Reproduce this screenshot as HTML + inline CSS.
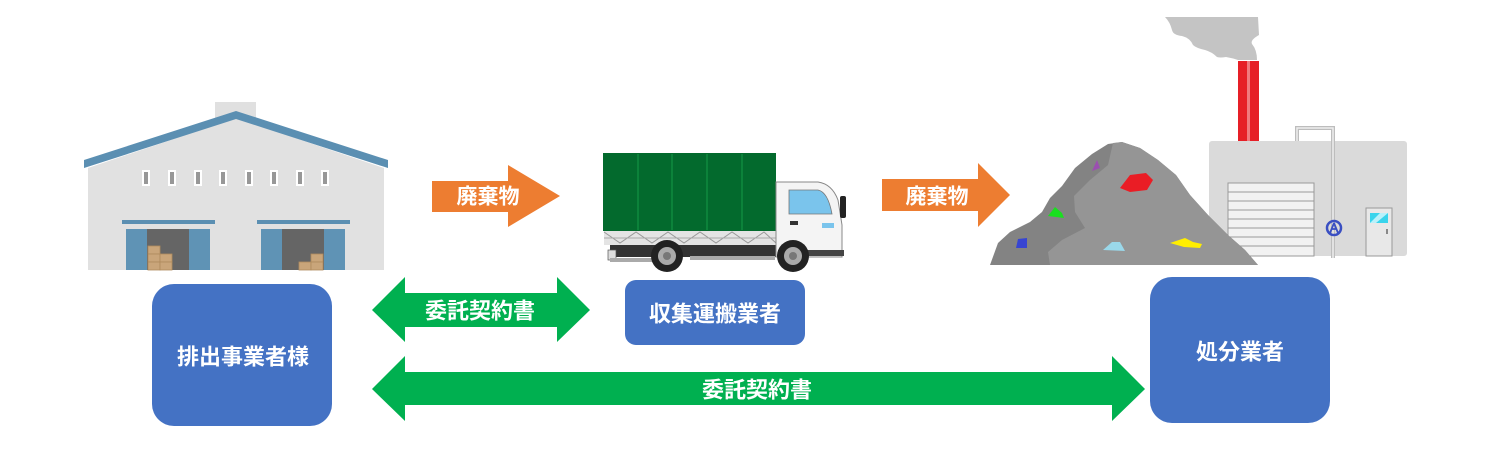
<!DOCTYPE html>
<html><head><meta charset="utf-8">
<style>
html,body{margin:0;padding:0;background:#fff;}
svg{display:block;}
text{font-family:"Liberation Sans","Noto Sans CJK JP",sans-serif;font-weight:bold;fill:#fff;}
</style></head>
<body>
<svg width="1497" height="458" viewBox="0 0 1497 458" xmlns="http://www.w3.org/2000/svg">
<!-- Warehouse -->
<rect x="215" y="102" width="41" height="20" fill="#e0e0e0"/>
<polygon points="88,168 236,118 384,168 384,270 88,270" fill="#e1e1e1"/>
<polygon points="84,160 236,111 388,160 388,168 236,119 84,168" fill="#5b8fb2"/>
<g fill="#fff">
<rect x="142" y="170" width="8" height="16"/><rect x="168" y="170" width="8" height="16"/><rect x="194" y="170" width="8" height="16"/><rect x="219" y="170" width="8" height="16"/><rect x="245" y="170" width="8" height="16"/><rect x="270" y="170" width="8" height="16"/><rect x="296" y="170" width="8" height="16"/><rect x="321" y="170" width="8" height="16"/>
</g>
<g fill="#979797">
<rect x="144" y="172" width="4" height="12"/><rect x="170" y="172" width="4" height="12"/><rect x="196" y="172" width="4" height="12"/><rect x="221" y="172" width="4" height="12"/><rect x="247" y="172" width="4" height="12"/><rect x="272" y="172" width="4" height="12"/><rect x="298" y="172" width="4" height="12"/><rect x="323" y="172" width="4" height="12"/>
</g>
<rect x="122" y="220" width="93" height="4" fill="#5b8fb2"/>
<rect x="257" y="220" width="93" height="4" fill="#5b8fb2"/>
<rect x="126" y="229" width="84" height="41" fill="#5f93b5"/>
<rect x="147" y="229" width="42" height="41" fill="#656565"/>
<rect x="261" y="229" width="84" height="41" fill="#5f93b5"/>
<rect x="282" y="229" width="42" height="41" fill="#656565"/>
<g fill="#c9a57a" stroke="#b08a5c" stroke-width="0.8">
<rect x="148" y="246" width="12" height="8"/><rect x="148" y="254" width="12" height="8"/><rect x="148" y="262" width="12" height="8"/><rect x="160" y="254" width="12" height="8"/><rect x="160" y="262" width="12" height="8"/>
<rect x="299" y="262" width="12" height="8"/><rect x="311" y="254" width="12" height="8"/><rect x="311" y="262" width="12" height="8"/>
</g>

<!-- Orange arrow 1 -->
<polygon points="432,181 508,181 508,165 560,196 508,227 508,212 432,212" fill="#ed7d31"/>
<text x="488" y="197" font-size="21" text-anchor="middle" dominant-baseline="central">廃棄物</text>

<!-- Truck -->
<rect x="603" y="153" width="173" height="78" fill="#036a2d"/>
<g stroke="#0f8a3e" stroke-width="1.5"><line x1="638" y1="154" x2="638" y2="230"/><line x1="672" y1="154" x2="672" y2="230"/><line x1="707" y1="154" x2="707" y2="230"/><line x1="742" y1="154" x2="742" y2="230"/></g>
<rect x="604" y="231" width="172" height="14" fill="#e4e4e4"/>
<polyline points="604,232 620,243 636,232 652,243 668,232 684,243 700,232 716,243 732,232 748,243 764,232 776,243" fill="none" stroke="#999" stroke-width="1"/>
<line x1="604" y1="238" x2="776" y2="238" stroke="#aaa" stroke-width="1"/>
<rect x="610" y="245" width="170" height="12" fill="#333"/>
<rect x="608" y="250" width="8" height="10" fill="#ddd" stroke="#555" stroke-width="0.7"/>
<rect x="610" y="258" width="45" height="4" fill="#aaa"/>
<rect x="690" y="256" width="85" height="4" fill="#aaa"/>
<path d="M776,182 L818,182 Q832,184 838,200 L842,225 L842,257 L776,257 Z" fill="#f4f4f4" stroke="#888" stroke-width="1"/>
<path d="M789,190 L818,190 Q828,192 832,214 L789,214 Z" fill="#7ac4ec" stroke="#777" stroke-width="0.8"/>
<rect x="790" y="221" width="8" height="4" fill="#333"/>
<rect x="822" y="223" width="12" height="5" fill="#7ac4ec"/>
<rect x="840" y="196" width="6" height="22" rx="2" fill="#222"/>
<rect x="778" y="250" width="66" height="6" fill="#444"/>
<circle cx="667" cy="256" r="16" fill="#222"/><circle cx="667" cy="256" r="9" fill="#aaa"/><circle cx="667" cy="256" r="4" fill="#777"/>
<circle cx="793" cy="256" r="16" fill="#222"/><circle cx="793" cy="256" r="9" fill="#aaa"/><circle cx="793" cy="256" r="4" fill="#777"/>

<!-- Orange arrow 2 -->
<polygon points="882,179 978,179 978,163 1010,195 978,227 978,211 882,211" fill="#ed7d31"/>
<text x="937" y="197" font-size="21" text-anchor="middle" dominant-baseline="central">廃棄物</text>

<!-- Smoke & chimney -->
<path d="M1165,17 L1258,17 L1259,35 Q1250,40 1252,44 Q1257,50 1257,60 L1238,60 Q1232,58 1226,57 Q1220,58 1217,57 Q1212,52 1205,50 Q1196,48 1193,45 Q1190,38 1182,36 Q1173,35 1172,30 Q1170,22 1165,17 Z" fill="#c4c4c4"/>
<rect x="1238" y="61" width="21" height="80" fill="#e61f26"/>
<rect x="1247" y="61" width="3" height="80" fill="#f07a7e"/>
<!-- Factory -->
<rect x="1209" y="141" width="198" height="115" rx="3" fill="#dadada"/>
<path d="M1297,141 L1297,128 L1333,128 L1333,258" fill="none" stroke="#bdbdbd" stroke-width="4"/>
<path d="M1297,141 L1297,128 L1333,128 L1333,258" fill="none" stroke="#eee" stroke-width="1.5"/>
<rect x="1228" y="183" width="86" height="73" fill="#f2f2f2" stroke="#999" stroke-width="1"/>
<g stroke="#999" stroke-width="1"><line x1="1228" y1="192" x2="1314" y2="192"/><line x1="1228" y1="201" x2="1314" y2="201"/><line x1="1228" y1="210" x2="1314" y2="210"/><line x1="1228" y1="219" x2="1314" y2="219"/><line x1="1228" y1="228" x2="1314" y2="228"/><line x1="1228" y1="237" x2="1314" y2="237"/><line x1="1228" y1="246" x2="1314" y2="246"/></g>
<circle cx="1334" cy="228" r="7" fill="none" stroke="#3a4fc2" stroke-width="2.5"/>
<path d="M1334,223 L1330,233 M1334,223 L1338,233 M1331,229 L1337,229" stroke="#3a4fc2" stroke-width="1.8" fill="none"/>
<rect x="1366" y="208" width="26" height="48" fill="#e8e8e8" stroke="#999" stroke-width="1"/>
<polygon points="1370,213 1388,213 1388,223 1370,223" fill="#39d4ec"/>
<polygon points="1380,213 1388,213 1376,223 1370,223" fill="#b9f1fa"/>
<rect x="1386" y="229" width="2" height="5" fill="#888"/>

<!-- Waste pile -->
<path d="M990,265 L998,243 L1010,232 L1030,222 L1042,212 L1050,198 L1062,186 L1075,168 L1092,154 L1108,144 L1122,142 L1140,148 L1158,160 L1176,175 L1190,195 L1208,215 L1228,235 L1245,250 L1258,265 Z" fill="#838383"/>
<path d="M1113,143 L1122,142 L1140,148 L1158,160 L1176,175 L1190,195 L1208,215 L1228,235 L1245,250 L1258,265 L1050,265 L1048,252 L1062,240 L1085,228 L1075,212 L1074,196 L1090,180 L1108,165 Z" fill="#959595"/>
<path d="M1092,171 L1097,160 L1100,168 Z" fill="#9b4fb0"/>
<path d="M1120,188 L1130,175 L1146,173 L1153,180 L1147,190 L1130,192 Z" fill="#ea1d25"/>
<path d="M1048,216 L1055,207 L1062,213 L1064,218 Z" fill="#19e01f"/>
<path d="M1016,248 L1018,239 L1027,238 L1027,248 Z" fill="#3745d2"/>
<path d="M1103,250 L1112,242 L1120,242 L1125,251 Z" fill="#9ad8ea"/>
<path d="M1170,243 L1185,238 L1193,242 L1202,244 L1200,248 L1184,247 Z" fill="#ffee00"/>

<!-- Green double arrow 1 -->
<polygon points="372,310 405,277 405,293 557,293 557,277 590,310 557,342 557,327 405,327 405,342" fill="#00b050"/>
<text x="480" y="311" font-size="22" text-anchor="middle" dominant-baseline="central">委託契約書</text>

<!-- Boxes -->
<rect x="625" y="280" width="180" height="65" rx="11" fill="#4472c4"/>
<text x="715" y="314" font-size="22" text-anchor="middle" dominant-baseline="central">収集運搬業者</text>
<rect x="152" y="284" width="180" height="142" rx="22" fill="#4472c4"/>
<text x="243" y="357" font-size="22" text-anchor="middle" dominant-baseline="central">排出事業者様</text>
<rect x="1150" y="277" width="180" height="146" rx="22" fill="#4472c4"/>
<text x="1240" y="352" font-size="22" text-anchor="middle" dominant-baseline="central">処分業者</text>

<!-- Green double arrow 2 -->
<polygon points="372,389 405,356 405,372 1112,372 1112,356 1145,389 1112,421 1112,405 405,405 405,421" fill="#00b050"/>
<text x="757" y="390" font-size="22" text-anchor="middle" dominant-baseline="central">委託契約書</text>
</svg>
</body></html>
